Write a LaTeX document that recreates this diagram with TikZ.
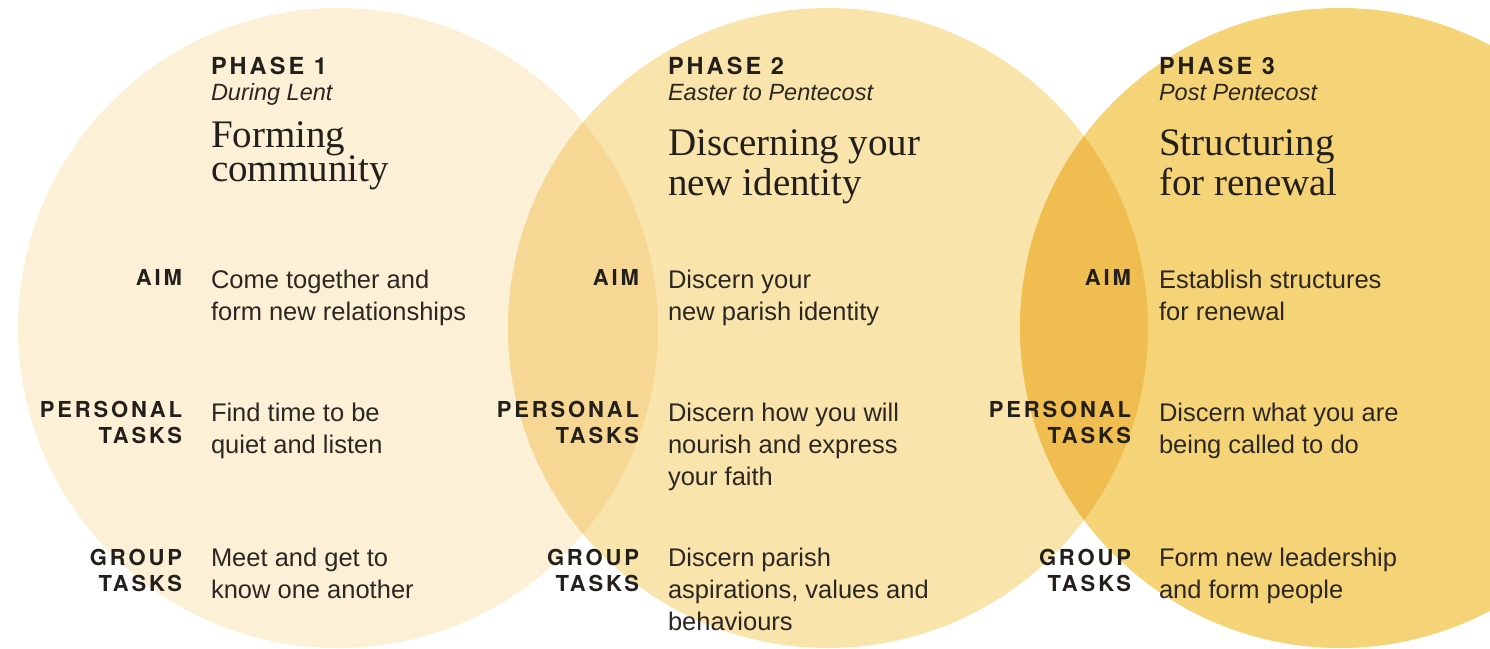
\documentclass[tikz,border=0pt]{standalone}
\usepackage{fontspec}
\setmainfont{Liberation Serif}
\newfontfamily\bodyfont{Liberation Sans}
\newfontfamily\labelfont[LetterSpace=13]{TeX Gyre Heros}
\definecolor{cone}{HTML}{FCF1D6}
\definecolor{ctwo}{HTML}{F9E4AC}
\definecolor{cthree}{HTML}{F5D377}
\definecolor{cot}{HTML}{F6D894}
\definecolor{ctt}{HTML}{F0BE50}
\definecolor{ink}{HTML}{231F1B}
\definecolor{bodyink}{HTML}{2C2722}
\newcommand\bodylines[1]{{\bodyfont\fontsize{25.5}{32}\selectfont\color{bodyink}\begin{tabular}[t]{@{}l@{}}#1\end{tabular}}}
\newcommand\lablines[1]{{\labelfont\bfseries\fontsize{22}{26.5}\selectfont\color{ink}\begin{tabular}[t]{@{}r@{}}#1\end{tabular}}}
\newcommand\titlelines[2]{{\fontsize{39}{#1}\selectfont\color{ink}\begin{tabular}[t]{@{}l@{}}#2\end{tabular}}}
\tikzset{
  txt/.style={inner sep=0pt, outer sep=0pt, anchor=base west},
  lab/.style={inner sep=0pt, outer sep=0pt, anchor=base east},
  phase/.style={inner sep=0pt, outer sep=0pt, anchor=base west, font=\labelfont\bfseries\fontsize{23.5}{28}\selectfont, text=ink},
  sub/.style={inner sep=0pt, outer sep=0pt, anchor=base west, font=\bodyfont\itshape\fontsize{23.5}{28}\selectfont, text=bodyink},
}
\begin{document}
\begin{tikzpicture}[x=1pt,y=-1pt]
\useasboundingbox (0,0) rectangle (1490,648);
\clip (0,0) rectangle (1490,648);
% circles
\fill[cone] (338,328) circle[radius=320pt];
\fill[ctwo] (828,328) circle[radius=320pt];
\fill[cthree] (1340,328) circle[radius=320pt];
\begin{scope}
  \clip (338,328) circle[radius=320pt];
  \fill[cot] (828,328) circle[radius=320pt];
\end{scope}
\begin{scope}
  \clip (828,328) circle[radius=320pt];
  \fill[ctt] (1340,328) circle[radius=320pt];
\end{scope}
% Phase 1
\node[phase] (p1) at (211,74) {PHASE 1};
\node[sub] (s1) at (211,100) {During Lent};
\node[txt] (t1) at (211,147) {\titlelines{30.5}{Forming\\community}};
\node[lab] (a1l) at (182,285) {\lablines{AIM}};
\node[txt] (a1) at (211,288) {\bodylines{Come together and\\form new relationships}};
\node[lab] (pt1l) at (182,417) {\lablines{PERSONAL\\TASKS}};
\node[txt] (pt1) at (211,421) {\bodylines{Find time to be\\quiet and listen}};
\node[lab] (g1l) at (182,565) {\lablines{GROUP\\TASKS}};
\node[txt] (g1) at (211,566) {\bodylines{Meet and get to\\know one another}};
% Phase 2
\node[phase] (p2) at (668,74) {PHASE 2};
\node[sub] (s2) at (668,100) {Easter to Pentecost};
\node[txt] (t2) at (668,155) {\titlelines{40}{Discerning your\\new identity}};
\node[lab] (a2l) at (639,285) {\lablines{AIM}};
\node[txt] (a2) at (668,288) {\bodylines{Discern your\\new parish identity}};
\node[lab] (pt2l) at (639,417) {\lablines{PERSONAL\\TASKS}};
\node[txt] (pt2) at (668,421) {\bodylines{Discern how you will\\nourish and express\\your faith}};
\node[lab] (g2l) at (639,565) {\lablines{GROUP\\TASKS}};
\node[txt] (g2) at (668,566) {\bodylines{Discern parish\\aspirations, values and\\behaviours}};
% Phase 3
\node[phase] (p3) at (1159,74) {PHASE 3};
\node[sub] (s3) at (1159,100) {Post Pentecost};
\node[txt] (t3) at (1159,155) {\titlelines{40}{Structuring\\for renewal}};
\node[lab] (a3l) at (1131,285) {\lablines{AIM}};
\node[txt] (a3) at (1159,288) {\bodylines{Establish structures\\for renewal}};
\node[lab] (pt3l) at (1131,417) {\lablines{PERSONAL\\TASKS}};
\node[txt] (pt3) at (1159,421) {\bodylines{Discern what you are\\being called to do}};
\node[lab] (g3l) at (1131,565) {\lablines{GROUP\\TASKS}};
\node[txt] (g3) at (1159,566) {\bodylines{Form new leadership\\and form people}};
\end{tikzpicture}
\end{document}
